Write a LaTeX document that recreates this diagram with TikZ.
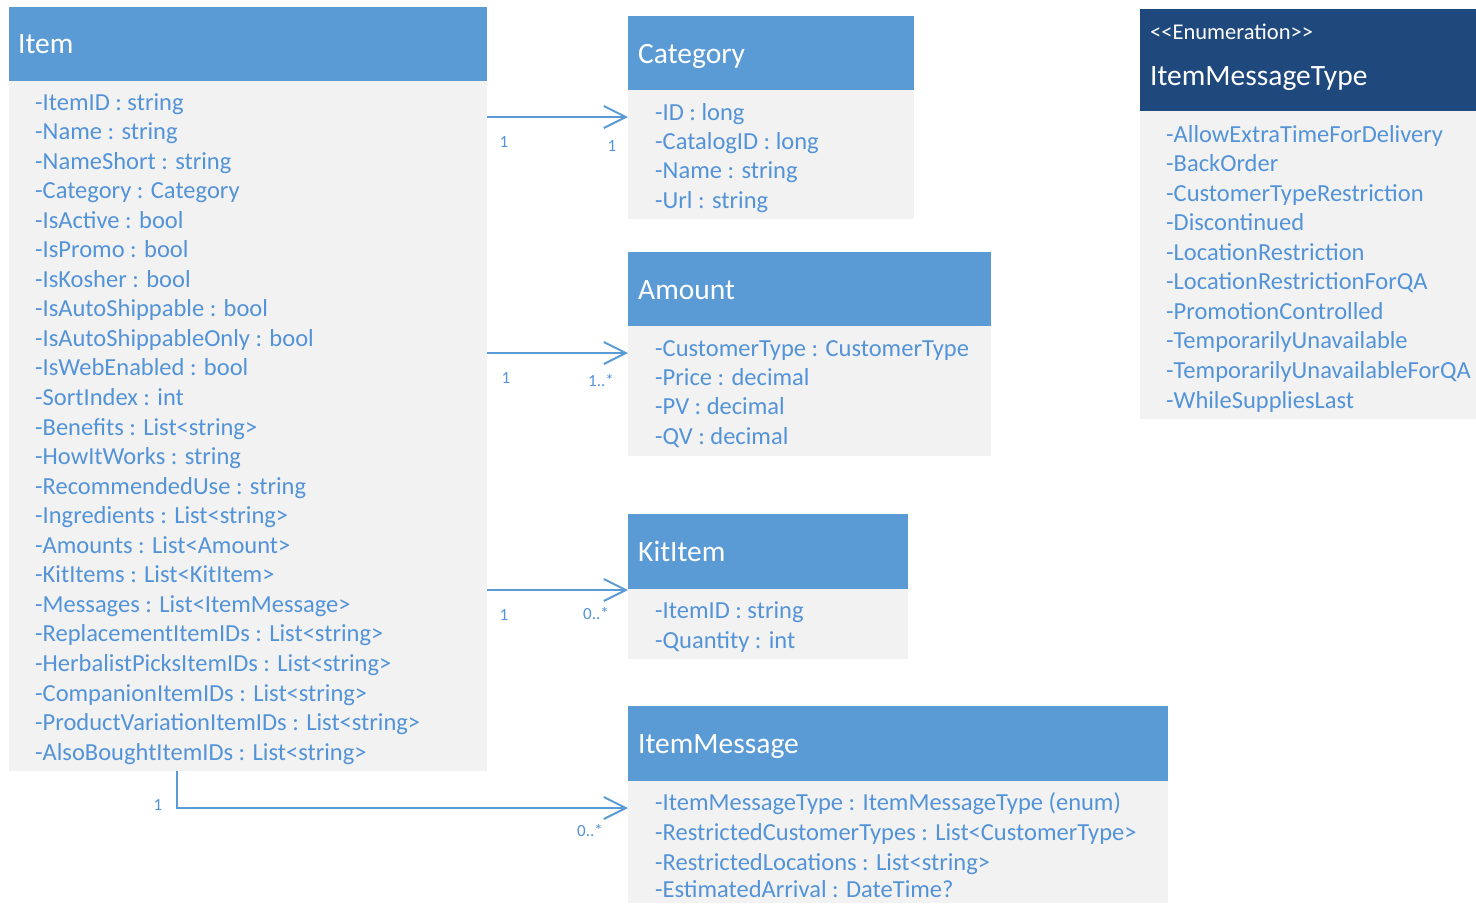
\documentclass[tikz,border=0pt]{standalone}
\usepackage{fontspec}
\setmainfont{Carlito}
\usetikzlibrary{arrows.meta,calc}
\definecolor{hdr}{HTML}{5B9BD5}
\definecolor{navy}{HTML}{1F497D}
\definecolor{bodyc}{HTML}{F2F2F2}
\definecolor{txt}{HTML}{5393D8}
\tikzset{
  hdrbox/.style={fill=hdr, draw=none, inner sep=0pt, anchor=north west},
  navybox/.style={fill=navy, draw=none, inner sep=0pt, anchor=north west},
  bodybox/.style={fill=bodyc, draw=none, inner sep=0pt, anchor=north west},
  ttl/.style={text=white, anchor=base west, inner sep=0pt, yshift=-10pt, font=\fontsize{29.5}{34}\selectfont},
  stereo/.style={text=white, anchor=base west, inner sep=0pt, yshift=-7pt, font=\fontsize{22.5}{26}\selectfont},
  attr/.style={text=txt, anchor=base west, inner sep=0pt, yshift=-8pt, font=\fontsize{24.5}{28}\selectfont},
  mult/.style={text=txt, inner sep=0pt, font=\fontsize{17}{20}\selectfont},
  assoc/.style={draw=hdr, line width=2pt, -{Straight Barb[length=22pt,width=22pt,line width=2pt]}},
}
\begin{document}
\begin{tikzpicture}[x=1pt,y=-1pt]
\useasboundingbox[fill=white] (0,0) rectangle (1476,903);
% Item
\node[hdrbox, minimum width=478pt, minimum height=74pt] (itemh) at (9,7) {};
\node[bodybox, minimum width=478pt, minimum height=690pt] (itemb) at (9,81) {};
\node[ttl] (itemt) at (18,43) {Item};
\foreach \t [count=\i from 0] in {
  -ItemID : string, -Name : string, -NameShort : string, -Category : Category,
  -IsActive : bool, -IsPromo : bool, -IsKosher : bool, -IsAutoShippable : bool,
  -IsAutoShippableOnly : bool, -IsWebEnabled : bool, -SortIndex : int,
  -Benefits : List<string>, -HowItWorks : string, -RecommendedUse : string,
  -Ingredients : List<string>, -Amounts : List<Amount>, -KitItems : List<KitItem>,
  -Messages : List<ItemMessage>, -ReplacementItemIDs : List<string>,
  -HerbalistPicksItemIDs : List<string>, -CompanionItemIDs : List<string>,
  -ProductVariationItemIDs : List<string>, -AlsoBoughtItemIDs : List<string>}
  \node[attr] (itema\i) at (35,102+\i*29.55) {\t};
% Category
\node[hdrbox, minimum width=286pt, minimum height=74pt] (cath) at (628,16) {};
\node[bodybox, minimum width=286pt, minimum height=129pt] (catb) at (628,90) {};
\node[ttl] (catt) at (638,53) {Category};
\foreach \t [count=\i from 0] in {-ID : long, -CatalogID : long, -Name : string, -Url : string}
  \node[attr] (cata\i) at (655,112+\i*29.4) {\t};
% Amount
\node[hdrbox, minimum width=363pt, minimum height=74pt] (amth) at (628,252) {};
\node[bodybox, minimum width=363pt, minimum height=130pt] (amtb) at (628,326) {};
\node[ttl] (amtt) at (638,289) {Amount};
\foreach \t [count=\i from 0] in {-CustomerType : CustomerType, -Price : decimal, -PV : decimal, -QV : decimal}
  \node[attr] (amta\i) at (655,348+\i*29.4) {\t};
% KitItem
\node[hdrbox, minimum width=280pt, minimum height=75pt] (kith) at (628,514) {};
\node[bodybox, minimum width=280pt, minimum height=70pt] (kitb) at (628,589) {};
\node[ttl] (kitt) at (638,551) {KitItem};
\node[attr] (kita0) at (655,610) {-ItemID : string};
\node[attr] (kita1) at (655,640) {-Quantity : int};
% ItemMessage
\node[hdrbox, minimum width=540pt, minimum height=75pt] (msgh) at (628,706) {};
\node[bodybox, minimum width=540pt, minimum height=122pt] (msgb) at (628,781) {};
\node[ttl] (msgt) at (638,743) {ItemMessage};
\foreach \t [count=\i from 0] in {-ItemMessageType : ItemMessageType (enum),
  -RestrictedCustomerTypes : List<CustomerType>, -RestrictedLocations : List<string>}
  \node[attr] (msga\i) at (655,802+\i*30) {\t};
\node[attr] (msga3) at (655,889) {-EstimatedArrival : DateTime?};
% Enumeration
\node[navybox, minimum width=336pt, minimum height=102pt] (enumh) at (1140,9) {};
\node[bodybox, minimum width=336pt, minimum height=308pt] (enumb) at (1140,111) {};
\node[stereo] (enums) at (1150,32) {<{}<Enumeration>{}>};
\node[ttl] (enumt) at (1150,75) {ItemMessageType};
\foreach \t [count=\i from 0] in {-AllowExtraTimeForDelivery, -BackOrder,
  -CustomerTypeRestriction, -Discontinued, -LocationRestriction,
  -LocationRestrictionForQA, -PromotionControlled, -TemporarilyUnavailable,
  -TemporarilyUnavailableForQA, -WhileSuppliesLast}
  \node[attr] (enuma\i) at (1166,134+\i*29.56) {\t};
% connectors
\coordinate (c1) at (0,117);
\coordinate (c2) at (0,353);
\coordinate (c3) at (0,590);
\coordinate (c4) at (177,808);
\draw[assoc] (itemb.east |- c1) -- (catb.west |- c1);
\draw[assoc] (itemb.east |- c2) -- (amtb.west |- c2);
\draw[assoc] (itemb.east |- c3) -- (kitb.west |- c3);
\draw[assoc] (itemb.south -| c4) -- (c4) -- (msgb.west |- c4);
% multiplicities
\node[mult] (m1a) at (504,142) {1};
\node[mult] (m1b) at (612,146) {1};
\node[mult] (m2a) at (506,378) {1};
\node[mult] (m2b) at (601,381) {1..*};
\node[mult] (m3a) at (504,615) {1};
\node[mult] (m3b) at (596,614) {0..*};
\node[mult] (m4a) at (158,805) {1};
\node[mult] (m4b) at (590,831) {0..*};
\end{tikzpicture}
\end{document}
